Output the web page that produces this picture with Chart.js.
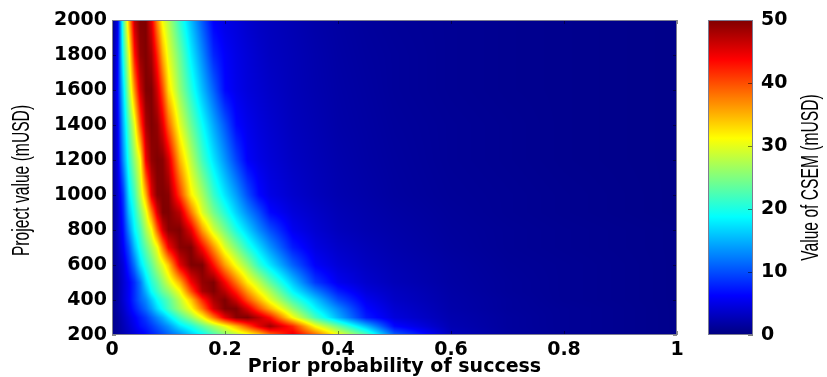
<!DOCTYPE html>
<html>
<head>
<meta charset="utf-8">
<script src="https://cdn.jsdelivr.net/npm/chart.js@4.4.1/dist/chart.umd.min.js"></script>
<style>
  html, body { margin: 0; padding: 0; background: #fff; }
  #wrap { position: relative; width: 827px; height: 377px; }
  #heat { position: absolute; left: 0; top: 0; }
  #bar { position: absolute; left: 690px; top: 0; }
</style>
</head>
<body>
<div id="wrap">
  <canvas id="heat" width="700" height="377"></canvas>
  <canvas id="bar" width="137" height="377"></canvas>
</div>
<script>
// prior probability of success (grid columns)
const probabilities = [0, 0.01, 0.02, 0.03, 0.04, 0.05, 0.06, 0.07, 0.08, 0.09, 0.10, 0.12, 0.14, 0.16, 0.18, 0.20, 0.22, 0.24, 0.26, 0.28, 0.32, 0.36, 0.40, 0.45, 0.50, 0.60, 0.70, 0.80, 1.0];
// project value in mUSD (grid rows)
const projectValues = [200, 250, 300, 350, 400, 450, 500, 600, 700, 800, 900, 1000, 1200, 1400, 1600, 1800, 2000];

// value of CSEM (mUSD), one row per project value
const csem200  = [0.5, 1.3, 2.3, 3.3, 4.3, 5.3, 6.3, 7.5, 8.5, 9.7, 11, 13, 16, 18.5, 22, 25, 27.5, 30, 33, 38, 45, 39, 31, 23, 11, 3, 1.6, 1.1, 0.6];
const csem250  = [0.5, 1.4, 2.6, 3.9, 5.2, 6.8, 7.7, 9, 10.5, 12, 13.5, 17.5, 20, 23.5, 27, 30.5, 35, 40, 45, 48.5, 42, 31, 24, 15.5, 6.5, 2.5, 1.5, 1.1, 0.6];
const csem300  = [0.5, 1.5, 3, 4.5, 6, 7.5, 9, 11, 13, 15, 17.5, 22, 26, 31, 38, 45, 49.5, 50, 47, 43, 31, 22, 15, 7.5, 4.5, 2.3, 1.5, 1.1, 0.6];
const csem350  = [0.5, 2, 3.5, 5.5, 7.5, 9.5, 11.5, 14, 17, 19.5, 22, 26.5, 31, 38, 46, 50, 50, 45.5, 40, 35, 26, 18.5, 13, 6.5, 4, 2.1, 1.4, 1.1, 0.6];
const csem400  = [0.5, 2, 4, 6, 8.5, 11, 13, 16, 19, 21, 23, 28, 34, 42, 48, 50, 46, 40, 35, 30, 22, 16, 10, 5.5, 3.5, 2, 1.4, 1, 0.6];
const csem450  = [0.5, 2, 4, 6, 8.5, 11.5, 15, 19, 21.5, 24, 26, 31, 40, 48, 50, 47, 42, 36, 31, 27, 18.5, 12.5, 7.5, 4.5, 3.2, 1.9, 1.3, 1, 0.6];
const csem500  = [0.5, 2, 4, 6, 8.5, 12, 17, 20.5, 23, 26, 29, 35, 44, 49, 50, 44, 38, 32, 28, 23.5, 16, 9, 5.5, 3.8, 2.8, 1.8, 1.3, 1, 0.6];
const csem600  = [0.5, 2.5, 4.5, 8, 12, 17, 20.5, 23.5, 27, 30, 34, 45, 50, 50, 43, 36, 30.5, 26, 21, 17.5, 11, 6, 4.3, 3.2, 2.5, 1.7, 1.2, 1, 0.6];
const csem700  = [0.5, 3, 6, 10, 15.5, 20, 23.5, 27, 30.5, 37.5, 44, 49.5, 50, 43.5, 36.5, 29.5, 25, 20.5, 17, 13.5, 7.5, 4.8, 3.6, 2.8, 2.2, 1.5, 1.1, 0.9, 0.6];
const csem800  = [0.5, 3.5, 7, 13, 18.5, 22, 27, 31, 39, 46, 49.5, 50, 45, 36, 29, 24.5, 20, 16.5, 13, 10, 5.5, 4, 3, 2.4, 2, 1.4, 1.1, 0.9, 0.6];
const csem900  = [0.5, 3.5, 8, 15.5, 20, 25, 30, 37.5, 45.5, 50, 50, 47, 38, 29.5, 24.5, 20.5, 16.5, 13, 10, 6.5, 4.5, 3.5, 2.7, 2.2, 1.8, 1.3, 1, 0.8, 0.5];
const csem1000 = [0.5, 4, 9, 17.5, 22, 28, 35, 45, 49.5, 50, 49.5, 41, 32, 27, 21.5, 17.5, 14, 10, 6.5, 5, 3.8, 3, 2.4, 2, 1.6, 1.2, 1, 0.8, 0.5];
const csem1200 = [0.5, 5, 13, 20.5, 26, 31, 44.5, 49, 50, 49.5, 46, 35, 28, 22, 17.5, 13.5, 9.5, 6, 5, 4.3, 3.3, 2.7, 2.2, 1.8, 1.5, 1.1, 0.9, 0.7, 0.5];
const csem1400 = [0.5, 5.5, 15, 23, 30, 40, 48, 50, 49, 45, 39, 30, 24, 19, 14.5, 10.5, 6.5, 5.3, 4.5, 3.9, 3, 2.5, 2, 1.7, 1.4, 1.1, 0.9, 0.7, 0.5];
const csem1600 = [0.5, 6.5, 17, 27, 37, 46, 50, 50, 46, 40, 33, 26, 20.5, 15.5, 11, 6.5, 5.3, 4.5, 4, 3.5, 2.8, 2.3, 1.9, 1.6, 1.3, 1, 0.8, 0.7, 0.5];
const csem1800 = [0.5, 6, 20, 30, 43, 49, 50, 48, 42, 35, 30, 24, 18, 13, 8, 6, 5, 4.3, 3.7, 3.2, 2.7, 2.2, 1.8, 1.5, 1.3, 1, 0.8, 0.7, 0.5];
const csem2000 = [0.5, 5, 22, 35, 47, 50, 50, 45, 37, 30.5, 27.5, 21, 15.5, 10.5, 6, 5, 4.5, 3.8, 3.3, 3, 2.5, 2, 1.7, 1.4, 1.2, 1, 0.8, 0.7, 0.5];
const csemRows = [csem200, csem250, csem300, csem350, csem400, csem450, csem500, csem600, csem700, csem800, csem900, csem1000, csem1200, csem1400, csem1600, csem1800, csem2000];

const csemMin = 0;
const csemMax = 50;

const tickFont = { family: 'DejaVu Sans', size: 19, weight: 'bold' };
const sideTitleFont = "23px 'Liberation Sans', Arial, sans-serif";

// MATLAB jet colormap
function jet(t) {
  const c = (v) => Math.max(0, Math.min(1, v));
  return [c(1.5 - Math.abs(4 * t - 3)), c(1.5 - Math.abs(4 * t - 2)), c(1.5 - Math.abs(4 * t - 1))];
}
const jetCss = (t) => {
  const [r, g, b] = jet(t);
  return `rgb(${Math.round(r * 255)},${Math.round(g * 255)},${Math.round(b * 255)})`;
};

function locate(arr, v) {
  let k = 0;
  while (k < arr.length - 2 && v > arr[k + 1]) k++;
  const f = Math.max(0, Math.min(1, (v - arr[k]) / (arr[k + 1] - arr[k])));
  return [k, f];
}

// rotated, narrowed axis title (the source uses a condensed face)
function sideTitle(ctx, text, cx, cy) {
  ctx.save();
  ctx.translate(cx, cy);
  ctx.rotate(-Math.PI / 2);
  ctx.scale(0.68, 1);
  ctx.fillStyle = '#000';
  ctx.font = sideTitleFont;
  ctx.textAlign = 'center';
  ctx.textBaseline = 'middle';
  ctx.fillText(text, 0, 0);
  ctx.restore();
}

// paints the grid into the plot area, pixel by pixel through the chart scales
const heatField = {
  id: 'heatField',
  beforeDatasetsDraw(chart) {
    const { ctx, chartArea: a, scales: { x, y } } = chart;
    const w = Math.round(a.right - a.left), h = Math.round(a.bottom - a.top);
    const off = document.createElement('canvas');
    off.width = w; off.height = h;
    const octx = off.getContext('2d');
    const img = octx.createImageData(w, h);
    const cols = [];
    for (let i = 0; i < w; i++) cols.push(locate(probabilities, x.getValueForPixel(a.left + i + 0.5)));
    for (let j = 0; j < h; j++) {
      const [r, fy] = locate(projectValues, y.getValueForPixel(a.top + j + 0.5));
      const lo = csemRows[r], hi = csemRows[r + 1];
      for (let i = 0; i < w; i++) {
        const [c, fx] = cols[i];
        const z0 = lo[c] * (1 - fx) + lo[c + 1] * fx;
        const z1 = hi[c] * (1 - fx) + hi[c + 1] * fx;
        const z = z0 * (1 - fy) + z1 * fy;
        const [R, G, B] = jet((z - csemMin) / (csemMax - csemMin));
        const o = (j * w + i) * 4;
        img.data[o] = R * 255; img.data[o + 1] = G * 255; img.data[o + 2] = B * 255; img.data[o + 3] = 255;
      }
    }
    octx.putImageData(img, 0, 0);
    ctx.drawImage(off, a.left, a.top);
  }
};

const frame = {
  id: 'frame',
  afterDraw(chart) {
    const { ctx, chartArea: a, scales: { x, y } } = chart;
    ctx.save();
    ctx.strokeStyle = 'rgba(0,0,0,0.45)';
    ctx.lineWidth = 1;
    ctx.beginPath();
    x.ticks.forEach((t) => {
      const px = Math.round(x.getPixelForValue(t.value)) + 0.5;
      ctx.moveTo(px, a.bottom); ctx.lineTo(px, a.bottom - 4);
      ctx.moveTo(px, a.top); ctx.lineTo(px, a.top + 4);
    });
    y.ticks.forEach((t) => {
      const py = Math.round(y.getPixelForValue(t.value)) + 0.5;
      ctx.moveTo(a.left, py); ctx.lineTo(a.left + 4, py);
      ctx.moveTo(a.right, py); ctx.lineTo(a.right - 4, py);
    });
    ctx.stroke();
    ctx.strokeStyle = '#7c7c92';
    ctx.strokeRect(a.left + 0.5, a.top + 0.5, a.right - a.left - 1, a.bottom - a.top - 1);
    ctx.restore();
    sideTitle(ctx, 'Project value (mUSD)', 23, (a.top + a.bottom) / 2 + 3);
  }
};

new Chart(document.getElementById('heat'), {
  type: 'scatter',
  data: { datasets: [] },
  options: {
    responsive: false,
    animation: false,
    layout: { padding: { top: 20, right: 23, left: 0, bottom: 0 } },
    plugins: { legend: { display: false }, tooltip: { enabled: false } },
    scales: {
      x: {
        type: 'linear', min: 0, max: 1,
        ticks: { stepSize: 0.2, color: '#000', font: tickFont, padding: 4, maxRotation: 0, callback: (v) => String(+v.toFixed(1)) },
        grid: { display: false, drawTicks: false },
        border: { display: false },
        title: { display: true, text: 'Prior probability of success', color: '#000', font: { family: 'DejaVu Sans', size: 19, weight: 'bold', lineHeight: 1 }, padding: 0 },
        afterFit(s) { s.height = 42; }
      },
      y: {
        type: 'linear', min: 200, max: 2000,
        ticks: { stepSize: 200, color: '#000', font: tickFont, padding: 5, callback: (v) => String(v) },
        grid: { display: false, drawTicks: false },
        border: { display: false },
        afterFit(s) { s.width = 112; }
      }
    }
  },
  plugins: [heatField, frame]
});

// colour bar drawn against its own value axis
const colorBar = {
  id: 'colorBar',
  beforeDatasetsDraw(chart) {
    const { ctx, chartArea: a, scales: { y } } = chart;
    const g = ctx.createLinearGradient(0, y.getPixelForValue(csemMin), 0, y.getPixelForValue(csemMax));
    for (let k = 0; k <= 64; k++) g.addColorStop(k / 64, jetCss(k / 64));
    ctx.fillStyle = g;
    ctx.fillRect(a.left, a.top, a.right - a.left, a.bottom - a.top);
  },
  afterDraw(chart) {
    const { ctx, chartArea: a, scales: { y } } = chart;
    ctx.save();
    ctx.strokeStyle = 'rgba(0,0,0,0.5)';
    ctx.beginPath();
    y.ticks.forEach((t) => {
      const py = Math.round(y.getPixelForValue(t.value)) + 0.5;
      ctx.moveTo(a.right, py); ctx.lineTo(a.right - 5, py);
    });
    ctx.stroke();
    ctx.strokeStyle = '#7c7c92';
    ctx.strokeRect(a.left + 0.5, a.top + 0.5, a.right - a.left - 1, a.bottom - a.top - 1);
    ctx.restore();
    sideTitle(ctx, 'Value of CSEM (mUSD)', chart.width - 15, (a.top + a.bottom) / 2);
  }
};

new Chart(document.getElementById('bar'), {
  type: 'scatter',
  data: { datasets: [] },
  options: {
    responsive: false,
    animation: false,
    layout: { padding: { top: 20, right: 0, left: 18, bottom: 42 } },
    plugins: { legend: { display: false }, tooltip: { enabled: false } },
    scales: {
      x: { display: false, min: 0, max: 1 },
      y: {
        type: 'linear', position: 'right', min: csemMin, max: csemMax,
        ticks: { stepSize: 10, color: '#000', font: tickFont, padding: 8 },
        grid: { display: false, drawTicks: false },
        border: { display: false },
        afterFit(s) { s.width = 74; }
      }
    }
  },
  plugins: [colorBar]
});
</script>
</body>
</html>
